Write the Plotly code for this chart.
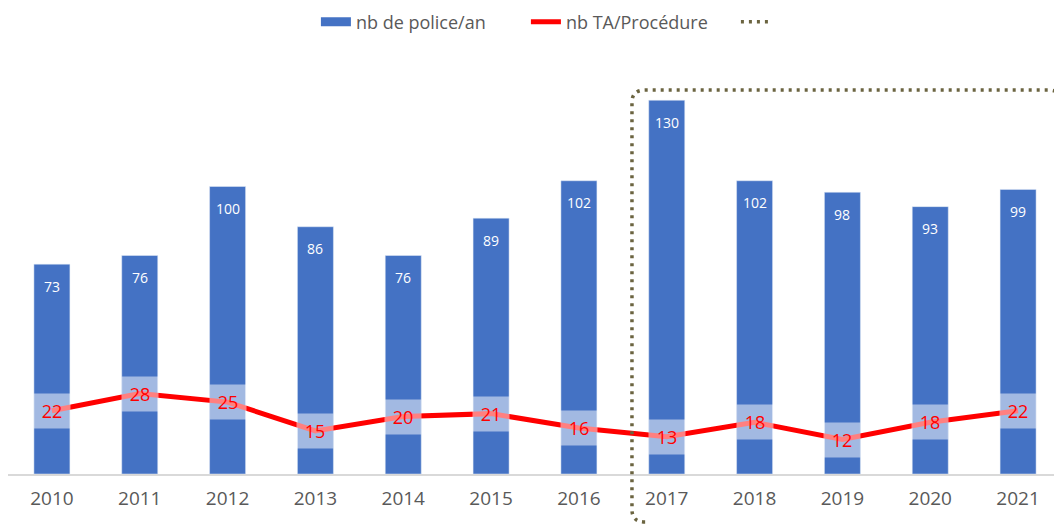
import plotly.graph_objects as go

years = ["2010", "2011", "2012", "2013", "2014", "2015", "2016", "2017", "2018", "2019", "2020", "2021"]
police = [73, 76, 100, 86, 76, 89, 102, 130, 102, 98, 93, 99]
ta = [22, 28, 25, 15, 20, 21, 16, 13, 18, 12, 18, 22]

BLUE = "#4472C4"
RED = "#FF0000"
OLIVE = "#6B6440"
GRAY = "#595959"
FONT = "Open Sans"

fig = go.Figure()
fig.add_trace(go.Bar(x=years, y=police, name="nb de police/an", marker_color=BLUE,
                     width=0.41, hoverinfo="skip", showlegend=False))
fig.add_trace(go.Scatter(x=[None], y=[None], name="nb de police/an", mode="lines",
                         line=dict(color=BLUE, width=9)))
fig.add_trace(go.Scatter(x=years, y=ta, name="nb TA/Procédure", mode="lines",
                         line=dict(color=RED, width=5), hoverinfo="skip"))
fig.add_trace(go.Scatter(x=[None], y=[None], name=" ", mode="lines",
                         line=dict(color=OLIVE, width=3.5, dash="3px,5px")))

ann = []
for i, v in enumerate(police):
    ann.append(dict(x=i, y=v, xref="x", yref="y", text=str(v), showarrow=False, yshift=-22,
                    font=dict(family=FONT, size=14, color="white")))
for i, v in enumerate(ta):
    ann.append(dict(x=i, y=v, xref="x", yref="y", text=str(v), showarrow=False,
                    width=36, height=34, bgcolor="rgba(255,255,255,0.5)", borderpad=0,
                    font=dict(family=FONT, size=18, color=RED)))

L, R, T, B = 0.592, 0.9995, 0.9275, -0.116
rx, ry = 0.0125, 0.03
path = (f"M {L+rx},{B} Q {L},{B} {L},{B+ry} L {L},{T-ry} Q {L},{T} {L+rx},{T} "
        f"L {R-rx},{T} Q {R},{T} {R},{T-ry} L {R},{B}")

fig.update_layout(
    width=1054, height=520,
    margin=dict(l=0, r=0, t=52, b=54, autoexpand=False),
    paper_bgcolor="white", plot_bgcolor="white",
    font=dict(family=FONT, color=GRAY),
    showlegend=True,
    legend=dict(orientation="h", x=0.591, xanchor="center", y=0.973, yanchor="middle",
                yref="container", font=dict(family=FONT, size=18, color=GRAY),
                traceorder="normal", entrywidth=165),
    xaxis=dict(type="category", range=[-0.5, 11.5], showgrid=False, showline=True,
               linecolor="#D9D9D9", linewidth=1.5, ticks="", ticklabelstandoff=6,
               tickfont=dict(family=FONT, size=19, color=GRAY)),
    yaxis=dict(range=[0, 144], visible=False, showgrid=False),
    annotations=ann,
    shapes=[dict(type="path", path=path, xref="paper", yref="paper",
                 line=dict(color=OLIVE, width=3.5, dash="3px,5px"))],
)

fig.write_html("out.html")
